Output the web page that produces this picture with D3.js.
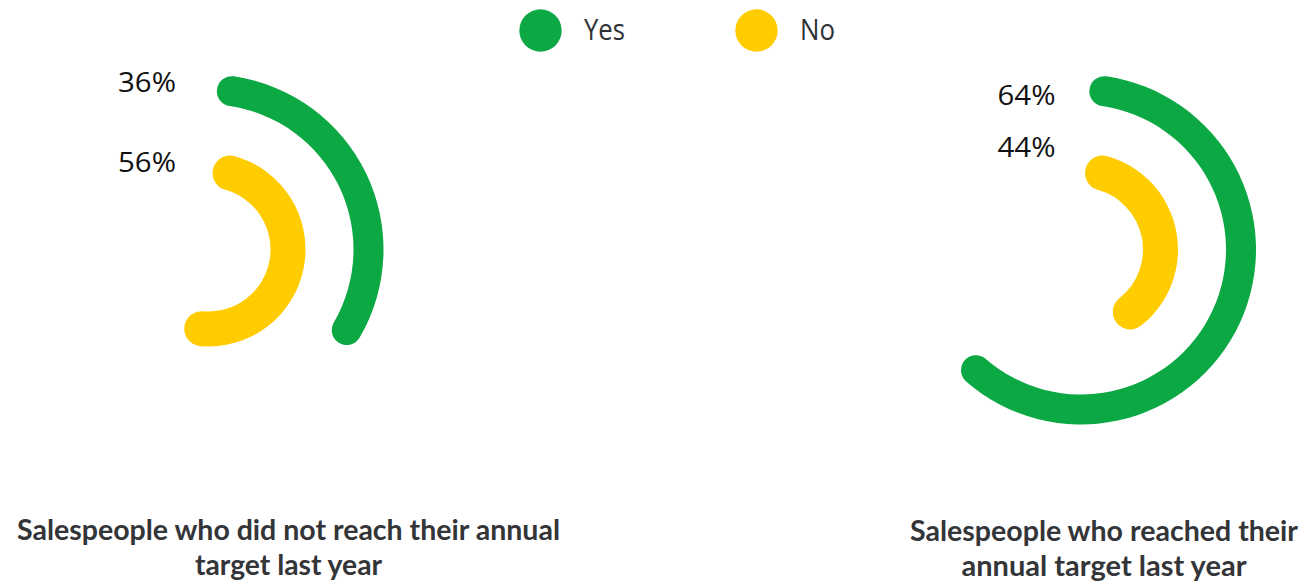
<!DOCTYPE html>
<html>
<head>
<meta charset="utf-8">
<script src="https://cdn.jsdelivr.net/npm/d3@7"></script>
<style>
html,body{margin:0;padding:0;background:#ffffff;}
svg{display:block;}
</style>
</head>
<body>
<svg id="chart" width="1304" height="581"></svg>
<script>
// ---------- data ----------
const categories = [
  "Salespeople who did not reach their annual target last year",
  "Salespeople who reached their annual target last year"
];
const titleLines = [
  ["Salespeople who did not reach their annual", "target last year"],
  ["Salespeople who reached their", "annual target last year"]
];
const seriesNames = ["Yes", "No"];
const yesValues = [36, 64];
const noValues = [56, 44];

// ---------- styles / layout ----------
const seriesColors = ["#0ca843", "#ffcc00"];
const W = 1304, H = 581;
const panels = [
  { cx: 208.5, cy: 249.5, titleX: 288.5, titleY: 540, titleW: [543, 187], labelX: 176, labelY: [92.3, 171.7] },
  { cx: 1081, cy: 249.5, titleX: 1104, titleY: 541, titleW: [388, 285], labelX: 1055.5, labelY: [105, 157.3] }
];
const ringRadii = [ { inner: 145, outer: 175 }, { inner: 62, outer: 97 } ];
const labelWidths = 58;
const legendItems = [ { cx: 540.5, tx: 584, tw: 41 }, { cx: 756.5, tx: 800, tw: 35 } ];

const svg = d3.select("#chart");
const angle = d3.scaleLinear().domain([0, 100]).range([0, 2 * Math.PI]);
const startPad = 3 * Math.PI / 180, endPad = 4 * Math.PI / 180;
const seriesValues = [yesValues, noValues];

categories.forEach((cat, i) => {
  const p = panels[i];
  const g = svg.append("g").attr("transform", `translate(${p.cx},${p.cy})`);
  seriesNames.forEach((s, j) => {
    const v = seriesValues[j][i];
    const r = ringRadii[j];
    const arc = d3.arc()
      .innerRadius(r.inner)
      .outerRadius(r.outer)
      .cornerRadius((r.outer - r.inner) / 2)
      .startAngle(angle(0) + startPad)
      .endAngle(angle(v) - endPad);
    g.append("path").attr("d", arc()).attr("fill", seriesColors[j]);
    svg.append("text")
      .attr("x", p.labelX).attr("y", p.labelY[j])
      .attr("text-anchor", "end")
      .attr("font-family", "'Open Sans', sans-serif")
      .attr("font-size", 28)
      .attr("fill", "#111")
      .attr("textLength", labelWidths)
      .attr("lengthAdjust", "spacingAndGlyphs")
      .text(v + "%");
  });
  titleLines[i].forEach((line, k) => {
    svg.append("text")
      .attr("x", p.titleX).attr("y", p.titleY + k * 35)
      .attr("text-anchor", "middle")
      .attr("font-family", "Lato, sans-serif")
      .attr("font-weight", "bold")
      .attr("font-size", 28)
      .attr("fill", "#333538")
      .attr("textLength", p.titleW[k])
      .attr("lengthAdjust", "spacingAndGlyphs")
      .text(line);
  });
});

// legend
seriesNames.forEach((s, j) => {
  const li = legendItems[j];
  svg.append("circle").attr("cx", li.cx).attr("cy", 30.5).attr("r", 21.2).attr("fill", seriesColors[j]);
  svg.append("text")
    .attr("x", li.tx).attr("y", 40)
    .attr("font-family", "'Open Sans', sans-serif")
    .attr("font-size", 30)
    .attr("fill", "#2e3136")
    .attr("textLength", li.tw)
    .attr("lengthAdjust", "spacingAndGlyphs")
    .text(s);
});
</script>
</body>
</html>
